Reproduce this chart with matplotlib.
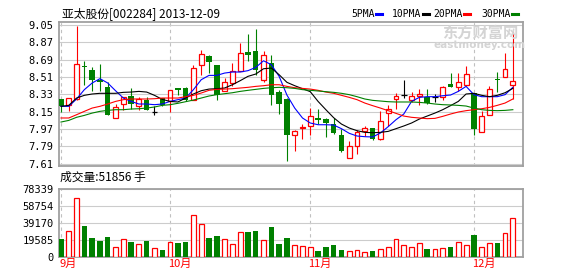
import matplotlib
matplotlib.use('Agg')
import matplotlib.pyplot as plt
from matplotlib.lines import Line2D
import numpy as np

plt.rcParams['font.family'] = ['Noto Sans CJK SC', 'DejaVu Sans']

# daily candles, 2013-09-02 .. 2013-12-09
opens = [8.282, 8.216, 8.282, 8.62, 8.586, 8.482, 8.406, 8.085, 8.226, 8.309,
         8.206, 8.275, 8.143, 8.289, 8.258, 8.396, 8.396, 8.275, 8.638, 8.724,
         8.631, 8.368, 8.444, 8.576, 8.769, 8.783, 8.482, 8.655, 8.354, 8.282,
         7.905, 7.977, 7.998, 8.085, 8.071, 8.022, 7.908, 7.67, 7.791, 7.946,
         7.981, 7.87, 8.136, 8.285, 8.32, 8.268, 8.316, 8.302, 8.299, 8.299,
         8.437, 8.403, 8.423, 8.341, 7.939, 8.119, 8.489, 8.506, 8.423]
highs = [8.285, 8.292, 9.042, 8.679, 8.61, 8.645, 8.458, 8.23, 8.299, 8.392,
         8.306, 8.299, 8.206, 8.29, 8.375, 8.396, 8.406, 8.638, 8.793, 8.742,
         8.635, 8.50, 8.655, 8.863, 8.956, 9.008, 8.783, 8.742, 8.379, 8.29,
         7.96, 8.022, 8.188, 8.181, 8.085, 8.085, 7.97, 7.843, 7.957, 7.998,
         7.981, 8.161, 8.223, 8.344, 8.482, 8.354, 8.389, 8.385, 8.334, 8.413,
         8.551, 8.551, 8.621, 8.345, 8.154, 8.413, 8.558, 8.759, 8.991]
lows = [8.143, 8.154, 8.27, 8.43, 8.368, 8.361, 8.119, 8.085, 8.168, 8.181,
        8.171, 8.171, 8.112, 8.21, 8.143, 8.32, 8.264, 8.27, 8.53, 8.551,
        8.275, 8.36, 8.413, 8.57, 8.672, 8.534, 8.458, 8.223, 8.13, 7.642,
        7.739, 7.87, 7.905, 8.022, 7.891, 7.919, 7.732, 7.67, 7.715, 7.894,
        7.86, 7.86, 7.998, 8.181, 8.292, 8.25, 8.216, 8.233, 8.247, 8.271,
        8.403, 8.361, 8.42, 7.912, 7.939, 8.112, 8.354, 8.506, 8.285]
closes = [8.206, 8.292, 8.645, 8.61, 8.482, 8.455, 8.119, 8.195, 8.299, 8.23,
          8.282, 8.171, 8.143, 8.216, 8.375, 8.379, 8.275, 8.603, 8.749, 8.662,
          8.32, 8.458, 8.569, 8.759, 8.742, 8.586, 8.735, 8.32, 8.23, 7.905,
          7.946, 7.995, 8.102, 8.067, 8.029, 7.929, 7.746, 7.791, 7.936, 7.977,
          7.87, 8.057, 8.174, 8.316, 8.32, 8.309, 8.337, 8.24, 8.299, 8.403,
          8.403, 8.458, 8.541, 7.974, 8.102, 8.385, 8.479, 8.593, 8.472]
volumes = [20550, 29860, 67870, 35680, 21720, 18230, 22880, 10860, 20170, 17060,
           14350, 18230, 9700, 7760, 17060, 16290, 17450, 48480, 38000, 21720,
           24040, 20170, 14740, 28310, 28700, 29860, 19000, 34510, 15120, 21720,
           13570, 12410, 11630, 6980, 11630, 13960, 8140, 6590, 7760, 5820,
           6980, 8920, 11250, 20550, 13570, 11250, 15900, 9310, 8920, 10080,
           11630, 17060, 13570, 25600, 11250, 15900, 16290, 27530, 44990]

ma5 = [8.206, 8.206, 8.282, 8.379, 8.448, 8.493, 8.448, 8.368, 8.292, 8.257,
       8.230, 8.230, 8.223, 8.230, 8.257, 8.275, 8.292, 8.379, 8.482, 8.527,
       8.527, 8.551, 8.562, 8.562, 8.576, 8.610, 8.679, 8.638, 8.517, 8.323,
       8.188, 8.085, 8.033, 8.015, 8.015, 8.012, 7.974, 7.926, 7.898, 7.891,
       7.888, 7.929, 7.995, 8.067, 8.126, 8.257, 8.299, 8.306, 8.306, 8.316,
       8.323, 8.361, 8.413, 8.327, 8.306, 8.306, 8.306, 8.327, 8.403]
ma10 = [8.206, 8.216, 8.292, 8.320, 8.334, 8.341, 8.341, 8.341, 8.351, 8.354,
        8.361, 8.354, 8.320, 8.278, 8.257, 8.251, 8.292, 8.334, 8.368, 8.385,
        8.389, 8.396, 8.430, 8.472, 8.517, 8.541, 8.596, 8.603, 8.534, 8.455,
        8.420, 8.389, 8.358, 8.257, 8.171, 8.088, 8.022, 7.981, 7.953, 7.936,
        7.932, 7.936, 7.946, 7.974, 8.002, 8.033, 8.074, 8.105, 8.136, 8.171,
        8.213, 8.257, 8.334, 8.341, 8.320, 8.306, 8.320, 8.347, 8.392]
ma20 = [8.085, 8.085, 8.119, 8.154, 8.188, 8.206, 8.230, 8.257, 8.275, 8.282,
        8.282, 8.282, 8.285, 8.292, 8.292, 8.292, 8.306, 8.320, 8.344, 8.372,
        8.382, 8.385, 8.389, 8.396, 8.403, 8.413, 8.420, 8.430, 8.430, 8.413,
        8.399, 8.392, 8.385, 8.372, 8.354, 8.341, 8.320, 8.299, 8.275, 8.240,
        8.213, 8.188, 8.161, 8.133, 8.105, 8.092, 8.085, 8.078, 8.081, 8.102,
        8.126, 8.147, 8.161, 8.171, 8.181, 8.195, 8.216, 8.240, 8.282]
ma30 = [8.043, 8.060, 8.092, 8.112, 8.136, 8.154, 8.164, 8.171, 8.171, 8.178,
        8.181, 8.188, 8.199, 8.216, 8.223, 8.237, 8.254, 8.271, 8.292, 8.313,
        8.327, 8.337, 8.347, 8.361, 8.372, 8.382, 8.392, 8.399, 8.403, 8.399,
        8.392, 8.379, 8.372, 8.365, 8.358, 8.351, 8.341, 8.327, 8.306, 8.282,
        8.268, 8.261, 8.254, 8.251, 8.251, 8.251, 8.247, 8.240, 8.230, 8.223,
        8.220, 8.216, 8.209, 8.188, 8.171, 8.164, 8.161, 8.164, 8.171]

price_ticks = [7.61, 7.79, 7.97, 8.15, 8.33, 8.51, 8.69, 8.87, 9.05]
vol_ticks = [0, 19585, 39170, 58754, 78339]
month_pos = [0, 14, 32, 53]
month_labels = ['9月', '10月', '11月', '12月']

RED = '#ff0000'
GREEN = '#008000'
GRID = '#cccccc'
FRAME = '#a0a0a0'

fig = plt.figure(figsize=(5.78, 2.76), dpi=100)
W, H = 578.0, 276.0
ax = fig.add_axes([58.5 / W, 1 - 165.7 / H, 464 / W, 144 / H])
axv = fig.add_axes([58.5 / W, 1 - 256.7 / H, 464 / W, 67.4 / H])

x = np.arange(len(closes))
o = np.array(opens)
c = np.array(closes)
up = c > o
down = c < o
flat = c == o

# wicks, then bodies on top
wick_col = np.where(up, RED, np.where(down, GREEN, 'black'))
ax.vlines(x, lows, highs, colors=wick_col, linewidth=0.8, zorder=3)
bottom = np.minimum(o, c)
height = np.abs(c - o)
ax.bar(x[up], height[up], 0.62, bottom=bottom[up], facecolor='white',
       edgecolor=RED, linewidth=0.9, zorder=4)
ax.bar(x[down], height[down], 0.7, bottom=bottom[down], color=GREEN, zorder=4)
ax.hlines(c[flat], x[flat] - 0.38, x[flat] + 0.38, colors='black', linewidth=0.9, zorder=4)

# moving averages
ax.plot(x, ma5, color='#0000ff', linewidth=0.8, zorder=5)
ax.plot(x, ma10, color='black', linewidth=0.8, zorder=5)
ax.plot(x, ma20, color=RED, linewidth=0.8, zorder=5)
ax.plot(x, ma30, color=GREEN, linewidth=0.8, zorder=5)

ax.set_ylim(7.590, 9.084)
ax.set_yticks(price_ticks)
ax.set_yticklabels(['%.2f' % p for p in price_ticks])

# volume
vol = np.array(volumes)
vup = c >= o
axv.bar(x[vup], vol[vup], 0.62, facecolor='white', edgecolor=RED, linewidth=0.9, zorder=4)
axv.bar(x[~vup], vol[~vup], 0.7, color=GREEN, zorder=4)
axv.set_ylim(0, 78339)
axv.set_yticks(vol_ticks)
axv.set_yticklabels([str(v) for v in vol_ticks])

for a in (ax, axv):
    a.set_xlim(-0.32, 59.24)
    a.set_xticks([])
    a.grid(axis='y', color=GRID, linewidth=0.8, zorder=0)
    for m in month_pos:
        a.axvline(m, color='#c0c0c0', linewidth=0.8, linestyle=(0, (3, 3)), zorder=1)
    for s in a.spines.values():
        s.set_color(FRAME)
        s.set_linewidth(1.3)
    a.tick_params(axis='y', length=0, pad=3.5, labelsize=7.5)
    for lbl in a.get_yticklabels():
        lbl.set_family('DejaVu Sans Mono')

for m, lab in zip(month_pos, month_labels):
    axv.text(m - 0.25, -0.03, lab, transform=axv.get_xaxis_transform(),
             color=RED, fontsize=8, ha='left', va='top')

fig.text(62 / W, 1 - 14 / H, '亚太股份[002284] 2013-12-09', fontsize=8.5, va='center')
fig.text(60 / W, 1 - 177 / H, '成交量:51856 手', fontsize=8.5, va='center')

# legend
leg = [('5PMA', 351, '#0000ff'), ('10PMA', 392, 'black'),
       ('20PMA', 433, RED), ('30PMA', 481, GREEN)]
for name, px, col in leg:
    fig.text(px / W, 1 - 14 / H, name, fontsize=7, va='center',
             family='DejaVu Sans Mono')
    ex = px + 5.85 * len(name) + 1.5
    fig.add_artist(Line2D([ex / W, (ex + 6) / W], [1 - 14 / H, 1 - 14 / H],
                          color=col, linewidth=2.2))

# watermark
fig.text(480 / W, 1 - 33 / H, '东方财富网', fontsize=11, color='#d4d4d4',
         fontweight='bold', ha='center', va='center')
fig.text(480 / W, 1 - 45.5 / H, 'eastmoney.com', fontsize=7.5, color='#d4d4d4',
         fontweight='bold', ha='center', va='center', family='DejaVu Sans')

fig.savefig('out.png', dpi=100)
